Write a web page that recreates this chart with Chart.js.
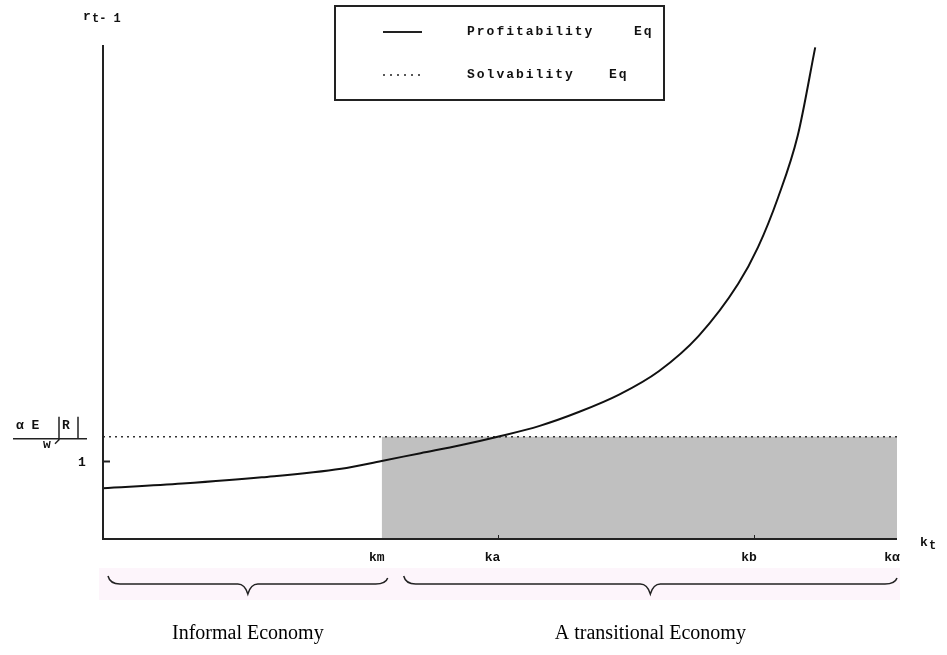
<!DOCTYPE html>
<html>
<head>
<meta charset="utf-8">
<title>Profitability vs Solvability</title>
<script src="https://cdn.jsdelivr.net/npm/chart.js@4.4.0/dist/chart.umd.min.js"></script>
<style>
  body { margin: 0; background: #fff; }
  #econChart { display: block; }
</style>
</head>
<body>
<canvas id="econChart" width="947" height="655"></canvas>
<script>
// capital stock k_t and interest rate r_t-1
const kCurve = [0, 1, 2, 3, 3.51, 4, 4.5, 4.97, 5.5, 6, 6.5, 7, 7.5, 8, 8.25, 8.5, 8.75, 8.97];
const rCurve = [0.65, 0.71, 0.79, 0.90, 1.00, 1.10, 1.20, 1.31, 1.45, 1.63, 1.85, 2.15, 2.60, 3.27, 3.74, 4.37, 5.17, 6.30];

// solvability level alpha*E[R]/w
const solvLevel = 1.31;

// named points on the k axis
const kTickValues = [3.51, 4.97, 8.2, 10];
const kTickLabels = ['km', 'ka', 'kb', 'k\u03b1'];

const seriesNames = ['Profitability', 'Solvability'];
const regionNames = ['Informal Economy', 'A transitional Economy'];

const monoFont = 'bold 13px "Liberation Mono", "DejaVu Sans Mono", monospace';

function curvePoints() {
    return kCurve.map((k, i) => ({ x: k, y: rCurve[i] }));
}

// draw a horizontal curly brace pointing down
function drawBrace(ctx, x1, x2, y) {
    const mid = (x1 + x2) / 2;
    ctx.beginPath();
    ctx.moveTo(x1, y - 8);
    ctx.quadraticCurveTo(x1 + 2, y, x1 + 12, y);
    ctx.lineTo(mid - 10, y);
    ctx.quadraticCurveTo(mid - 3, y, mid, y + 10);
    ctx.quadraticCurveTo(mid + 3, y, mid + 10, y);
    ctx.lineTo(x2 - 12, y);
    ctx.quadraticCurveTo(x2 - 2, y, x2, y - 6);
    ctx.stroke();
}

const econDecor = {
    id: 'econDecor',
    beforeDraw(chart) {
        const ctx = chart.ctx;
        ctx.save();
        ctx.fillStyle = '#fff';
        ctx.fillRect(0, 0, chart.width, chart.height);
        ctx.restore();
    },
    afterDraw(chart) {
        const ctx = chart.ctx;
        const xs = chart.scales.x;
        const ys = chart.scales.y;
        const area = chart.chartArea;
        ctx.save();

        // axes
        ctx.strokeStyle = '#222';
        ctx.lineWidth = 2;
        ctx.beginPath();
        ctx.moveTo(area.left, area.top);
        ctx.lineTo(area.left, area.bottom);
        ctx.lineTo(area.right, area.bottom);
        ctx.stroke();

        // small ticks
        ctx.lineWidth = 1;
        [1, 2].forEach(i => {
            const px = Math.round(xs.getPixelForValue(kTickValues[i])) + 0.5;
            ctx.beginPath();
            ctx.moveTo(px, area.bottom);
            ctx.lineTo(px, area.bottom - 4);
            ctx.stroke();
        });
        const oneY = Math.round(ys.getPixelForValue(1)) + 0.5;
        ctx.lineWidth = 2;
        ctx.beginPath();
        ctx.moveTo(area.left, oneY);
        ctx.lineTo(area.left + 7, oneY);
        ctx.stroke();

        // k labels
        ctx.fillStyle = '#111';
        ctx.font = monoFont;
        ctx.textAlign = 'center';
        ctx.textBaseline = 'middle';
        kTickValues.forEach((v, i) => {
            ctx.fillText(kTickLabels[i], xs.getPixelForValue(v) - 5, area.bottom + 19);
        });

        // axis titles
        ctx.textAlign = 'left';
        ctx.fillText('r', 83, 17);
        ctx.font = 'bold 12px "Liberation Mono", monospace';
        ctx.fillText('t- 1', 92, 19);
        ctx.font = monoFont;
        ctx.fillText('k', 920, area.bottom + 4);
        ctx.font = 'bold 12px "Liberation Mono", monospace';
        ctx.fillText('t', 929, area.bottom + 7);

        // y labels: alpha E[R] / w and 1
        const sy = ys.getPixelForValue(solvLevel);
        ctx.font = monoFont;
        ctx.fillText('\u03b1 E', 16, sy - 11);
        ctx.fillText('R', 62, sy - 11);
        ctx.fillText('w', 43, sy + 8);
        ctx.fillText('1', 78, oneY + 1);
        ctx.lineWidth = 1.5;
        ctx.beginPath();
        ctx.moveTo(13, sy + 2);
        ctx.lineTo(87, sy + 2);
        ctx.moveTo(59, sy - 20);
        ctx.lineTo(59, sy + 3);
        ctx.lineTo(55, sy + 7);
        ctx.moveTo(78, sy - 20);
        ctx.lineTo(78, sy + 2);
        ctx.stroke();

        // legend box
        ctx.lineWidth = 2;
        ctx.strokeStyle = '#222';
        ctx.strokeRect(335, 6, 329, 94);
        ctx.font = monoFont;
        ctx.letterSpacing = '2px';
        ctx.beginPath();
        ctx.moveTo(383, 32);
        ctx.lineTo(422, 32);
        ctx.stroke();
        ctx.fillText(seriesNames[0], 467, 32);
        ctx.fillText('Eq', 634, 32);
        ctx.lineWidth = 1.5;
        ctx.setLineDash([2, 5]);
        ctx.beginPath();
        ctx.moveTo(383, 75);
        ctx.lineTo(422, 75);
        ctx.stroke();
        ctx.setLineDash([]);
        ctx.fillText(seriesNames[1], 467, 75);
        ctx.fillText('Eq', 609, 75);
        ctx.letterSpacing = '0px';

        // braces on a pale strip
        ctx.fillStyle = '#fdf5fb';
        ctx.fillRect(99, 568, 801, 32);
        ctx.strokeStyle = '#222';
        ctx.lineWidth = 1.5;
        const kmPx = xs.getPixelForValue(kTickValues[0]);
        drawBrace(ctx, area.left + 5, kmPx + 6, 584);
        drawBrace(ctx, kmPx + 22, area.right, 584);

        // region names
        ctx.fillStyle = '#000';
        ctx.font = '20px "Liberation Serif", "Times New Roman", serif';
        ctx.textAlign = 'center';
        ctx.fillText(regionNames[0], (area.left + 5 + kmPx + 6) / 2, 634);
        ctx.fillText(regionNames[1], (kmPx + 22 + area.right) / 2, 634);

        ctx.restore();
    }
};

const chart = new Chart(document.getElementById('econChart').getContext('2d'), {
    type: 'scatter',
    data: {
        datasets: [
            {
                label: 'Profitability Eq',
                data: curvePoints(),
                showLine: true,
                borderColor: '#111',
                borderWidth: 2,
                pointRadius: 0,
                cubicInterpolationMode: 'monotone',
                fill: false
            },
            {
                label: 'Solvability Eq',
                data: [{ x: 0, y: solvLevel }, { x: kTickValues[3], y: solvLevel }],
                showLine: true,
                borderColor: '#333',
                borderWidth: 1.5,
                borderDash: [2, 4],
                pointRadius: 0,
                fill: false
            },
            {
                label: 'shade',
                data: [{ x: kTickValues[0], y: solvLevel }, { x: kTickValues[3], y: solvLevel }],
                showLine: true,
                borderWidth: 0,
                borderColor: 'rgba(0,0,0,0)',
                backgroundColor: '#c0c0c0',
                pointRadius: 0,
                fill: 'origin'
            }
        ]
    },
    options: {
        responsive: false,
        devicePixelRatio: 1,
        animation: false,
        layout: { padding: { left: 103, right: 50, top: 45, bottom: 116 } },
        plugins: {
            legend: { display: false },
            tooltip: { enabled: false }
        },
        scales: {
            x: { type: 'linear', min: 0, max: 10, display: false },
            y: { type: 'linear', min: 0, max: 6.33, display: false }
        }
    },
    plugins: [econDecor]
});
</script>
</body>
</html>
